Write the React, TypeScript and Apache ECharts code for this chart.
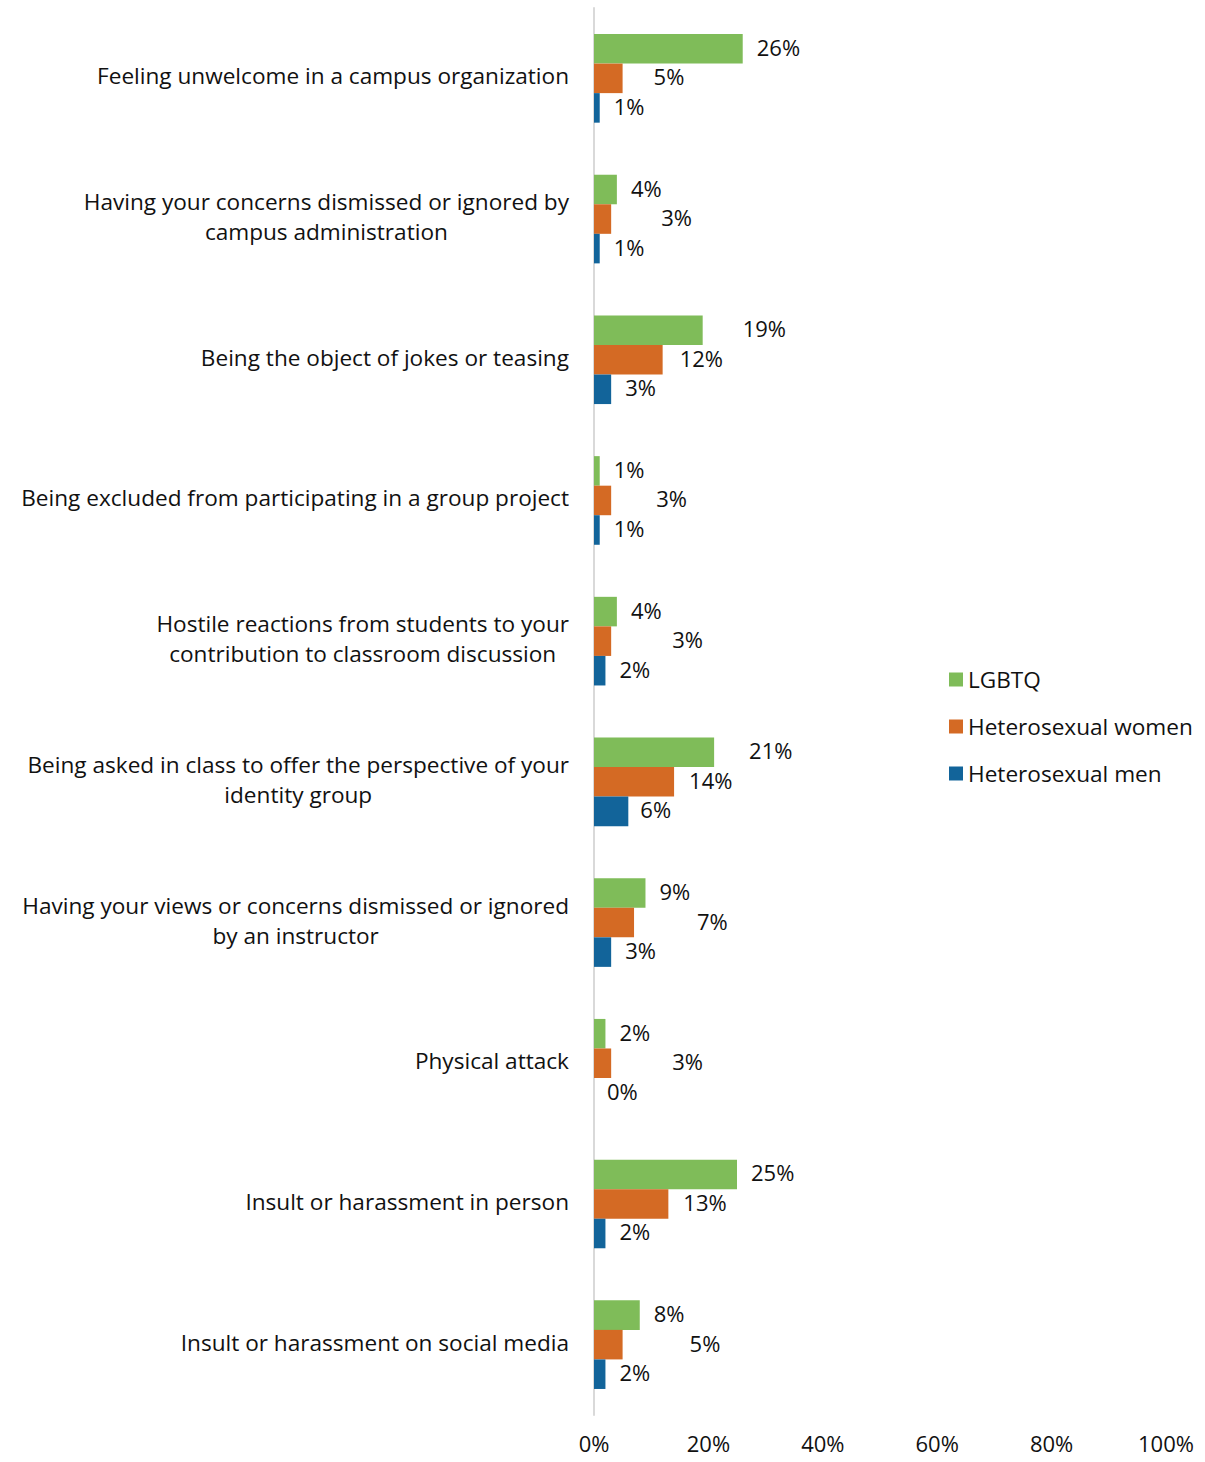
import React, { useEffect, useRef } from "react";
import * as echarts from "echarts";

const categories: string[] = [
  "Feeling unwelcome in a campus organization",
  "Having your concerns dismissed or ignored by\ncampus administration",
  "Being the object of jokes or teasing",
  "Being excluded from participating in a group project",
  "Hostile reactions from students to your\ncontribution to classroom discussion",
  "Being asked in class to offer the perspective of your\nidentity group",
  "Having your views or concerns dismissed or ignored\nby an instructor",
  "Physical attack",
  "Insult or harassment in person",
  "Insult or harassment on social media",
];

const seriesNames: string[] = ["LGBTQ", "Heterosexual women", "Heterosexual men"];

const lgbtq: number[] = [26, 4, 19, 1, 4, 21, 9, 2, 25, 8];
const heteroWomen: number[] = [5, 3, 12, 3, 3, 14, 7, 3, 13, 5];
const heteroMen: number[] = [1, 1, 3, 1, 2, 6, 3, 0, 2, 2];

const xTicks: number[] = [0, 20, 40, 60, 80, 100];

// extra horizontal nudges of the value labels, as placed in the original
const nudgeLgbtq: number[] = [0, 0, 26, 0, 0, 21, 0, 0, 0, 0];
const nudgeWomen: number[] = [17, 36, 3, 31, 47, 1, 49, 47, 1, 53];
const nudgeMen: number[] = [0, 0, 0, 0, 0, -2, 0, -1, 0, 0];

const colors: string[] = ["#7FBC59", "#D46A24", "#12649A"];

const FONT = "'Open Sans', Lato, sans-serif";
const FS_CAT = 22.6;
const FS_VAL = 22;
const TXT = "#111";

export default function App() {
  const ref = useRef<HTMLDivElement>(null);

  useEffect(() => {
    if (!ref.current) return;
    const chart = echarts.init(ref.current, null, { renderer: "svg" });

    const makeSeries = (name: string, vals: number[], nudge: number[], color: string) => ({
      name,
      type: "bar",
      barGap: "0%",
      barCategoryGap: "37%",
      itemStyle: { color },
      label: {
        show: true,
        position: "right",
        distance: 14,
        formatter: "{c}%",
        fontFamily: FONT,
        fontSize: FS_VAL,
        color: TXT,
      },
      data: vals.map((v, i) => ({ value: v, label: { offset: [nudge[i], -2] } })),
    });

    const fmtCat = (s: string) => {
      if (s.indexOf("\n") < 0) return s;
      return s
        .split("\n")
        .map((l) => `{c|${l}}`)
        .join("\n");
    };

    chart.setOption({
      animation: false,
      textStyle: { fontFamily: FONT },
      color: colors,
      legend: {
        orient: "vertical",
        left: 944,
        top: 663,
        itemWidth: 14,
        itemHeight: 14,
        itemGap: 24,
        icon: "rect",
        textStyle: { fontFamily: FONT, fontSize: FS_CAT, color: TXT },
        data: seriesNames,
      },
      grid: { left: 594, right: 39, top: 8, bottom: 47, containLabel: false },
      xAxis: {
        type: "value",
        min: xTicks[0],
        max: xTicks[xTicks.length - 1],
        interval: 20,
        axisLine: { show: false },
        axisTick: { show: false },
        splitLine: { show: false },
        axisLabel: {
          formatter: "{value}%",
          fontFamily: FONT,
          fontSize: FS_VAL,
          color: TXT,
          margin: 17,
        },
      },
      yAxis: {
        type: "category",
        inverse: true,
        data: categories,
        axisLine: { show: true, lineStyle: { color: "#D9D9D9", width: 2 } },
        axisTick: { show: false },
        axisLabel: {
          margin: 25,
          fontFamily: FONT,
          fontSize: FS_CAT,
          color: TXT,
          lineHeight: 30,
          padding: [0, 0, 5, 0],
          formatter: fmtCat,
          rich: {
            c: { align: "center", fontFamily: FONT, fontSize: FS_CAT, color: TXT, lineHeight: 30 },
          },
        },
      },
      series: [
        makeSeries(seriesNames[0], lgbtq, nudgeLgbtq, colors[0]),
        makeSeries(seriesNames[1], heteroWomen, nudgeWomen, colors[1]),
        makeSeries(seriesNames[2], heteroMen, nudgeMen, colors[2]),
      ],
    });

    return () => chart.dispose();
  }, []);

  return (
    <div
      ref={ref}
      style={{ position: "fixed", left: 0, top: 0, width: 1205, height: 1462, background: "#fff" }}
    />
  );
}
